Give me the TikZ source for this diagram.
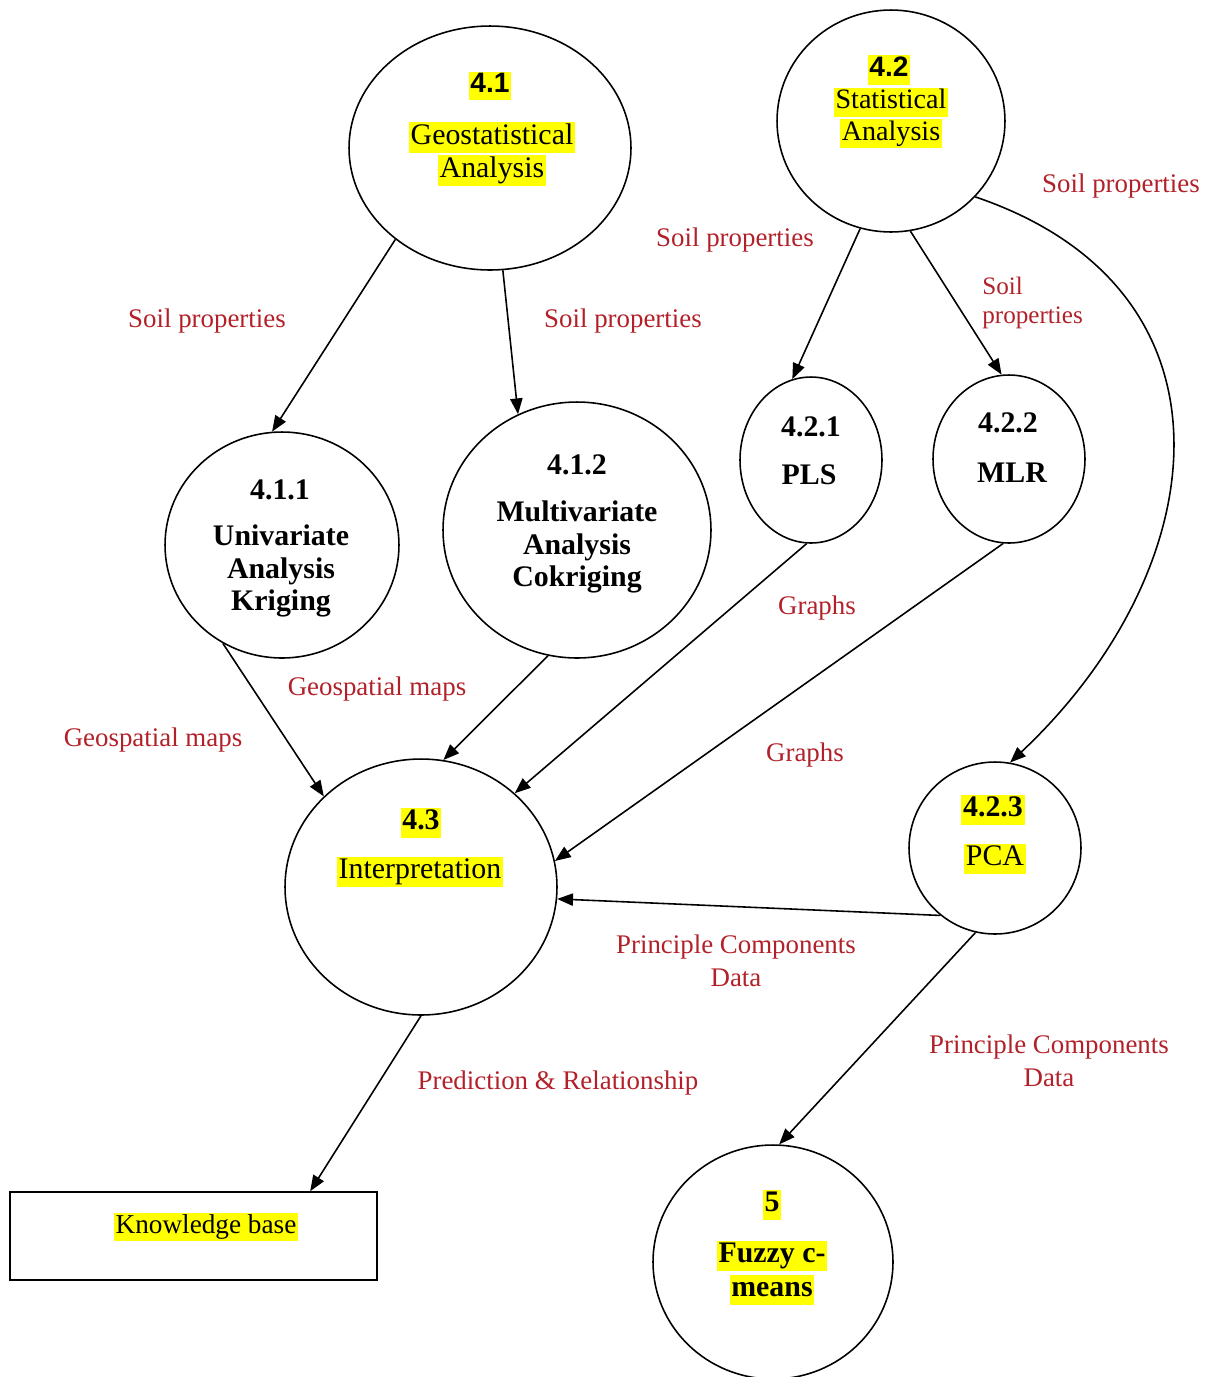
\documentclass[tikz,border=0pt]{standalone}
\usepackage{fontspec}
\setmainfont{Liberation Serif}
\newfontfamily\numsans{Liberation Sans}
\usepackage{tikz}
\usetikzlibrary{shapes.geometric, arrows.meta, calc}
\definecolor{hlyellow}{rgb}{1, 1, 0}
\definecolor{flowred}{rgb}{0.70, 0.13, 0.16}
\newcommand{\hly}[1]{{\setlength{\fboxsep}{1pt}\colorbox{hlyellow}{\vphantom{Ag}#1}}}

\begin{document}
\begin{tikzpicture}[x=0.02cm, y=-0.02cm]
			\tikzstyle{proc}=[ellipse, draw=black, line width=0.9pt, inner sep=0pt]
			\tikzstyle{store}=[rectangle, draw=black, line width=0.9pt, minimum width=7.34cm, minimum height=1.76cm]
			\tikzstyle{numa}=[inner sep=0pt, font=\fontsize{16}{19}\selectfont\numsans\bfseries]
			\tikzstyle{numb}=[inner sep=0pt, font=\fontsize{17}{19}\selectfont\bfseries]
			\tikzstyle{ttl}=[inner sep=0pt, align=center, font=\fontsize{17}{18.7}\selectfont]
			\tikzstyle{ttlb}=[inner sep=0pt, align=center, font=\fontsize{17}{18.7}\selectfont\bfseries]
			\tikzstyle{flow}=[inner sep=0pt, align=center, text=flowred, font=\fontsize{15.3}{18.7}\selectfont]
			\tikzstyle{arr}=[line width=0.9pt, -{Triangle[length=9pt, width=7pt]}]
			
			\useasboundingbox (0,0) rectangle (1210,1377);
			%% processes
			\node (geo) at (490,148) [proc, minimum width=5.64cm, minimum height=4.88cm] {};
			\node (stat) at (891,121) [proc, minimum width=4.56cm, minimum height=4.44cm] {};
			\node (uni) at (282,545) [proc, minimum width=4.68cm, minimum height=4.52cm] {};
			\node (multi) at (577,530) [proc, minimum width=5.36cm, minimum height=5.12cm] {};
			\node (pls) at (811,460) [proc, minimum width=2.84cm, minimum height=3.32cm] {};
			\node (mlr) at (1009,459) [proc, minimum width=3.04cm, minimum height=3.36cm] {};
			\node (interp) at (421,887) [proc, minimum width=5.44cm, minimum height=5.12cm] {};
			\node (pca) at (995,848) [proc, minimum width=3.44cm, minimum height=3.44cm] {};
			\node (fuzzy) at (773,1262) [proc, minimum width=4.80cm, minimum height=4.68cm] {};
			\node (kb) at (193.5,1236) [store] {};
			
			%% texts in the processes
			\node (geo-n) at (490,86) [numa] {\hly{4.1}};
			\node (geo-t) at (492,154) [ttl] {\hly{Geostatistical}\\\hly{Analysis}};
			\node (stat-n) at (889,70) [numa] {\hly{4.2}};
			\node (stat-t) at (891,118) [ttl, font=\fontsize{16}{18}\selectfont] {\hly{Statistical}\\\hly{Analysis}};
			\node (uni-n) at (280,490) [numb] {4.1.1};
			\node (uni-t) at (281,571) [ttlb] {Univariate\\Analysis\\Kriging};
			\node (multi-n) at (577,465) [numb] {4.1.2};
			\node (multi-t) at (577,547) [ttlb] {Multivariate\\Analysis\\Cokriging};
			\node (pls-n) at (811,427) [numb] {4.2.1};
			\node (pls-t) at (809,475) [numb] {PLS};
			\node (mlr-n) at (1008,423) [numb] {4.2.2};
			\node (mlr-t) at (1012,473) [numb] {MLR};
			\node (interp-n) at (421,823) [numb] {\hly{4.3}};
			\node (interp-t) at (420,872) [ttl] {\hly{Interpretation}};
			\node (pca-n) at (993,810) [numb] {\hly{4.2.3}};
			\node (pca-t) at (995,859) [ttl] {\hly{PCA}};
			\node (fuzzy-n) at (772,1205) [numb] {\hly{5}};
			\node (fuzzy-t) at (772,1273) [ttlb, font=\fontsize{17}{19.5}\selectfont\bfseries] {\hly{Fuzzy c-}\\\hly{means}};
			\node (kb-t) at (206,1227) [ttl, font=\fontsize{15.5}{18}\selectfont] {\hly{Knowledge base}};
			
			%% flows
			\draw[arr] (geo.224) -- (uni.95);
			\draw[arr] (geo.276) -- (multi.117);
			\draw[arr] (stat.254) -- (pls.103);
			\draw[arr] (stat.280) -- (mlr.95);
			\draw[arr] (stat.318) .. controls (1250,290) and (1215,570) .. (pca.80);
			\draw[arr] (uni.239) -- (interp.137);
			\draw[arr] (multi.257) -- (interp.80);
			\draw[arr] (pls.267) -- (interp.45);
			\draw[arr] (mlr.266) -- (interp.11);
			\draw[arr] (pca.231) -- (interp.355);
			\draw[arr] (pca.257) -- (fuzzy.87);
			\draw[arr] (interp.270) -- (kb.21);
			
			%% flow labels
			\node (l-uni) at (207,321) [flow] {Soil properties};
			\node (l-multi) at (623,321) [flow] {Soil properties};
			\node (l-pls) at (735,240) [flow] {Soil properties};
			\node (l-pca) at (1121,186) [flow] {Soil properties};
			\node (l-mlr) at (982,303) [flow, anchor=west, align=left, font=\fontsize{14.3}{16.4}\selectfont] {Soil\\properties};
			\node (l-pls2) at (817,608) [flow] {Graphs};
			\node (l-mlr2) at (805,755) [flow] {Graphs};
			\node (l-multi2) at (377,689) [flow] {Geospatial maps};
			\node (l-uni2) at (153,740) [flow] {Geospatial maps};
			\node (l-pca2) at (736,961) [flow] {Principle Components\\Data};
			\node (l-fuzzy) at (1049,1061) [flow] {Principle Components\\Data};
			\node (l-kb) at (558,1083) [flow] {Prediction \& Relationship};
\end{tikzpicture}
\end{document}
